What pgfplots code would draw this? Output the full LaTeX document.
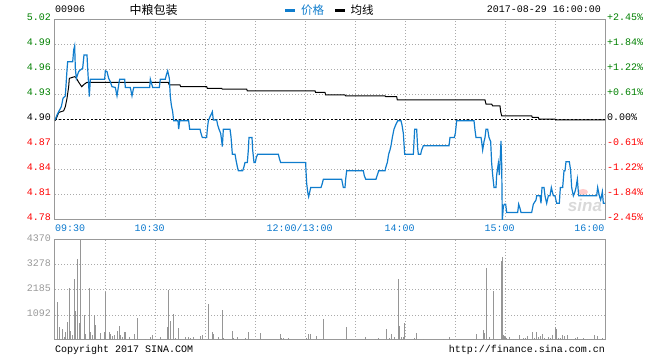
\documentclass[border=0pt]{standalone}
\usepackage{fontspec}
\setmainfont{Liberation Mono}
\newfontfamily\cjk{Noto Sans CJK SC}
\newfontfamily\sinafont{Liberation Sans}
\usepackage{pgfplots}
\pgfplotsset{compat=1.18}
\definecolor{pblue}{RGB}{16,125,205}
\definecolor{tblue}{RGB}{10,120,205}
\definecolor{lgreen}{RGB}{0,128,0}
\definecolor{lred}{RGB}{255,0,0}
\definecolor{framegray}{RGB}{153,153,153}
\definecolor{gridgray}{RGB}{170,170,170}
\definecolor{volgray}{RGB}{150,150,150}
\newcommand{\tf}{\fontsize{10bp}{12bp}\selectfont}
\begin{document}
\begin{tikzpicture}
\useasboundingbox (0,0) rectangle (660bp,360bp);
% header
\node[anchor=base west,inner sep=0pt,font=\tf] at (55bp,347.3bp) {00906};
\node[anchor=center,inner sep=0pt,font=\cjk\fontsize{12bp}{14bp}\selectfont] at (153.5bp,350.5bp) {中粮包装};
\draw[pblue,line width=3bp] (285bp,349bp) -- (295bp,349bp);
\node[anchor=west,inner sep=0pt,text=pblue,font=\cjk\fontsize{11.5bp}{14bp}\selectfont] at (301bp,350bp) {价格};
\draw[black,line width=3bp] (335bp,349bp) -- (345bp,349bp);
\node[anchor=west,inner sep=0pt,font=\cjk\fontsize{11.5bp}{14bp}\selectfont] at (350.5bp,350bp) {均线};
\node[anchor=base east,inner sep=0pt,font=\tf] at (601bp,347.3bp) {2017-08-29 16:00:00};
% footer
\node[anchor=base west,inner sep=0pt,font=\tf] at (55bp,7.3bp) {Copyright 2017 SINA.COM};
\node[anchor=base east,inner sep=0pt,font=\tf] at (605bp,7.3bp) {http://finance.sina.com.cn};
% watermark
\node[anchor=center,inner sep=0pt,text=black!15,font=\sinafont\bfseries\itshape\fontsize{17bp}{18bp}\selectfont] at (585bp,155bp) {sina};
\fill[red!20] (583bp,168bp) ellipse (5bp and 3bp);

% price panel
\begin{axis}[
  at={(55bp,140bp)}, anchor=south west, scale only axis,
  width=550bp, height=200bp,
  xmin=0, xmax=330, ymin=4.78, ymax=5.02,
  axis line style={draw=framegray, line width=1bp},
  xtick={0,30,...,330},
  xticklabels={\makebox[0pt][l]{\hspace{5.3bp}09:30},{},10:30,{},{},12:00/13:00,{},14:00,{},15:00,{},\makebox[0pt][r]{16:00\hspace{-4.6bp}}},
  ytick={4.78,4.81,4.84,4.87,4.90,4.93,4.96,4.99,5.02},
  yticklabels={\textcolor{lred}{4.78},\textcolor{lred}{4.81},\textcolor{lred}{4.84},\textcolor{lred}{4.87},4.90,\textcolor{lgreen}{4.93},\textcolor{lgreen}{4.96},\textcolor{lgreen}{4.99},\textcolor{lgreen}{5.02}},
  yticklabel pos=left,
  major tick length=0pt,
  grid=major,
  major grid style={draw=gridgray, line width=1bp, dash pattern=on 1bp off 2bp},
  tick label style={font=\tf, inner sep=0pt},
  xticklabel style={anchor=north, yshift=-4.5bp, xshift=-5.3bp, text=tblue},
  yticklabel style={anchor=east, xshift=-4bp, yshift=2.5bp},
  scaled ticks=false,
]
\addplot[black, line width=1bp, dash pattern=on 2bp off 2bp] coordinates {(0,4.90) (330,4.90)};
% average line
\addplot[black, line width=1bp] coordinates {
(0,4.899)(1.2,4.904)(2.2,4.909)(5.2,4.911)(6.2,4.916)(7.2,4.926)(8.2,4.940)(8.6,4.950)
(10.2,4.951)(11.8,4.952)(12.6,4.951)(14,4.946)(16,4.940)(17.6,4.943)(19,4.945)
(68,4.945)(68.6,4.942)(75,4.942)(75.4,4.940)(91,4.940)(91.4,4.938)(100,4.938)(100.4,4.937)
(115,4.937)(115.4,4.935)(156,4.935)(156.4,4.933)(162,4.933)(162.4,4.930)(174,4.930)(174.4,4.929)
(198,4.929)(198.4,4.928)(205,4.928)(205.4,4.924)(258,4.924)(258.6,4.919)(262,4.919)(262.6,4.917)
(267,4.917)(267.4,4.910)(268,4.905)(286,4.905)(286.4,4.903)(290,4.903)(290.4,4.901)(300,4.901)
(300.4,4.900)(330,4.900)};
% price line
\addplot[pblue, line width=1.2bp] coordinates {
(0,4.900)(1.2,4.906)(2.2,4.910)(3.8,4.916)(4.8,4.926)(6.2,4.929)(7.2,4.960)(7.6,4.970)
(10.6,4.970)(10.8,4.974)(11.2,4.984)(11.8,4.989)(12.2,4.962)(12.8,4.950)(14.2,4.958)(15.2,4.960)
(16.6,4.962)(17.4,4.978)(19.2,4.978)(19.6,4.962)(20.6,4.928)(21.2,4.949)(29.8,4.949)(30.2,4.959)
(31.2,4.958)(32.2,4.950)(33.2,4.946)(34.2,4.940)(36.2,4.939)(37.2,4.929)(38.2,4.942)(38.8,4.949)
(41.8,4.949)(42.2,4.939)(45.2,4.939)(46.2,4.929)(47.2,4.939)(56.8,4.939)(57.2,4.949)(58.2,4.942)
(58.6,4.939)(62.6,4.939)(63.2,4.949)(66.2,4.949)(66.8,4.954)(67.6,4.959)(68.6,4.950)(69.2,4.928)
(69.8,4.918)(70.6,4.910)(71.2,4.899)(73.8,4.899)(74.2,4.889)(74.8,4.899)(80.2,4.899)(80.8,4.889)
(87,4.889)(87.6,4.884)(88.4,4.879)(91,4.879)(91.4,4.889)(92,4.899)(93,4.904)(93.8,4.907)
(94.4,4.910)(95,4.900)(97,4.900)(97.6,4.894)(98.4,4.889)(99.4,4.884)(100,4.875)(100.4,4.868)
(101,4.889)(105,4.889)(105.6,4.880)(106.4,4.859)(108,4.859)(108.6,4.852)(109.4,4.844)(110,4.839)
(112.6,4.839)(113.4,4.844)(114,4.849)(115.4,4.849)(116,4.864)(116.4,4.879)(118.2,4.879)(118.6,4.864)
(119.4,4.849)(120.2,4.849)(120.8,4.855)(121.6,4.859)(134,4.859)(134.6,4.854)(135.4,4.849)(150.4,4.849)
(150.6,4.839)(151,4.824)(151.6,4.814)(152.2,4.808)(153,4.815)(153.4,4.819)(159.6,4.819)(160.4,4.824)
(161,4.829)(172,4.829)(172.4,4.825)(173,4.819)(174,4.819)(174.4,4.829)(175,4.839)(185,4.839)
(185.6,4.833)(186.4,4.829)(192.6,4.829)(193.4,4.834)(194.2,4.839)(198,4.839)(198.6,4.844)(199.4,4.849)
(200.2,4.859)(201,4.864)(201.6,4.869)(202.4,4.879)(203.4,4.889)(204.4,4.894)(205.6,4.899)(207.6,4.899)
(208.2,4.894)(209,4.884)(209.8,4.859)(215,4.859)(215.4,4.874)(215.8,4.889)(217,4.889)(217.6,4.866)
(218,4.859)(219.4,4.859)(220,4.864)(221,4.869)(236.4,4.869)(237,4.879)(239.6,4.879)(240.2,4.884)
(241,4.899)(251.4,4.899)(252,4.888)(252.6,4.879)(255.6,4.879)(256,4.874)(256.6,4.864)(257.4,4.874)
(258,4.879)(258.6,4.889)(259.6,4.889)(260.4,4.879)(261.4,4.874)(262,4.848)(262.6,4.834)(263.4,4.819)
(264.6,4.819)(265,4.834)(266,4.848)(266.6,4.834)(267,4.848)(267.6,4.875)(268,4.848)(268.4,4.780)
(269,4.796)(269.6,4.799)(270.4,4.799)(271,4.789)(277.6,4.789)(278.2,4.799)(279,4.794)(279.6,4.789)
(286,4.789)(287,4.799)(288.6,4.804)(289,4.809)(291,4.809)(291.6,4.800)(292.2,4.819)(293.4,4.819)
(294,4.809)(295,4.800)(296,4.809)(297,4.809)(297.8,4.819)(299,4.809)(300,4.809)(301,4.800)
(302.6,4.800)(303.2,4.819)(304.6,4.819)(305.4,4.839)(306,4.839)(306.6,4.850)(308.6,4.850)(309.4,4.839)
(310,4.819)(311,4.809)(312,4.814)(312.6,4.819)(313.4,4.829)(314.2,4.809)(325,4.809)(325.6,4.819)
(326.6,4.809)(327.4,4.804)(328.4,4.814)(329,4.800)(330,4.800)};
\end{axis}

% right percentage labels
\begin{axis}[
  at={(55bp,140bp)}, anchor=south west, scale only axis,
  width=550bp, height=200bp,
  xmin=0, xmax=330, ymin=4.78, ymax=5.02,
  axis line style={draw=none},
  xtick=\empty,
  ytick={4.78,4.81,4.84,4.87,4.90,4.93,4.96,4.99,5.02},
  yticklabels={\textcolor{lred}{-2.45\%},\textcolor{lred}{-1.84\%},\textcolor{lred}{-1.22\%},\textcolor{lred}{-0.61\%},0.00\%,\textcolor{lgreen}{+0.61\%},\textcolor{lgreen}{+1.22\%},\textcolor{lgreen}{+1.84\%},\textcolor{lgreen}{+2.45\%}},
  yticklabel pos=right,
  major tick length=0pt,
  tick label style={font=\tf, inner sep=0pt},
  yticklabel style={anchor=west, xshift=2bp, yshift=2.5bp},
  scaled ticks=false,
]
\end{axis}

% volume panel
\begin{axis}[
  at={(55bp,20bp)}, anchor=south west, scale only axis,
  width=550bp, height=100bp,
  xmin=0, xmax=330, ymin=0, ymax=4370,
  axis line style={draw=framegray, line width=1bp},
  xtick={0,30,...,330},
  xticklabels={},
  ytick={1092,2185,3278,4370},
  yticklabels={1092,2185,3278,4370},
  major tick length=0pt,
  grid=major,
  major grid style={draw=gridgray, line width=1bp, dash pattern=on 1bp off 2bp},
  tick label style={font=\tf, inner sep=0pt, text=framegray},
  yticklabel style={anchor=east, xshift=-4bp, yshift=1.8bp},
  scaled ticks=false,
]
\addplot[ycomb, draw=volgray, line width=1bp] coordinates {
(1.4,1675)(2.6,583)(4.4,481)(5.6,146)(6.2,364)(7.4,801)(8.6,2287)(9.2,393)(10.4,218)(11.6,2665)
(12.2,1267)(13.4,3540)(14.6,728)(15.2,4370)(17.6,1092)(18.2,262)(20.6,2287)(21.2,364)(22.4,218)(23.6,1092)
(24.2,655)(27.2,320)(29.6,364)(30.2,2083)(32.6,364)(33.2,277)(34.4,189)(35.6,218)(37.4,393)(38.6,597)
(39.2,218)(40.4,131)(41.6,364)(42.2,364)(44.6,131)(46.4,44)(47.6,277)(49.4,976)(50.6,44)(54.2,44)
(57.2,131)(58.4,218)(60.8,44)(63.2,131)(67.4,568)(68,2185)(69.2,830)(71,1136)(72.2,73)(74,524)
(75.2,44)(78.2,131)(80,131)(81.2,73)(83,131)(87.2,175)(88.4,218)(92,1573)(94.4,350)(95,262)
(97.4,44)(98,131)(100.4,1311)(101,87)(106.4,393)(107,102)(109.4,131)(114.2,87)(116,350)(119,44)
(121.4,44)(123.2,306)(135.2,262)(135.8,73)(137,87)(140,87)(150.8,73)(152,248)(153.2,262)(156.8,175)
(161,918)
(173,44)(174.8,583)(186.2,131)(192.2,44)(194,87)(198.8,481)(200.6,87)(201.8,262)(203.6,131)(206,2665)
(206.6,612)(207.8,131)(209,131)(209.6,743)(215.6,87)(216.8,306)(218,44)(221,44)(233,44)(236.6,131)
(240.8,44)(252.8,262)(257,437)(257.6,320)(258.8,3146)(260.6,131)(263,2156)(265.4,44)(266.6,44)(267.8,3452)
(268.4,3627)(269,218)(269.6,175)(270.2,131)(270.8,87)(272.6,131)(273.8,44)(275,44)(276.2,44)(277.4,44)
(278.6,218)(279.8,44)(281,87)(282.2,87)(283.4,175)(284.6,44)(286.4,350)(287.6,87)(288.8,350)(290,131)
(291.2,175)(292.4,262)(293.6,87)(294.8,44)(296,131)(297.2,87)(298.4,218)(300.2,568)(300.8,481)(302,87)
(303.2,87)(304.4,218)(305.6,175)(307.4,218)(309.8,44)(311,44)(312.2,87)(313.4,131)(314.6,44)(317,87)
(318.2,44)(319.4,44)(320.6,44)(321.8,44)(323.6,218)(325.4,175)(326.6,44)(328.4,87)(329.6,44)};
\end{axis}
\end{tikzpicture}
\end{document}
